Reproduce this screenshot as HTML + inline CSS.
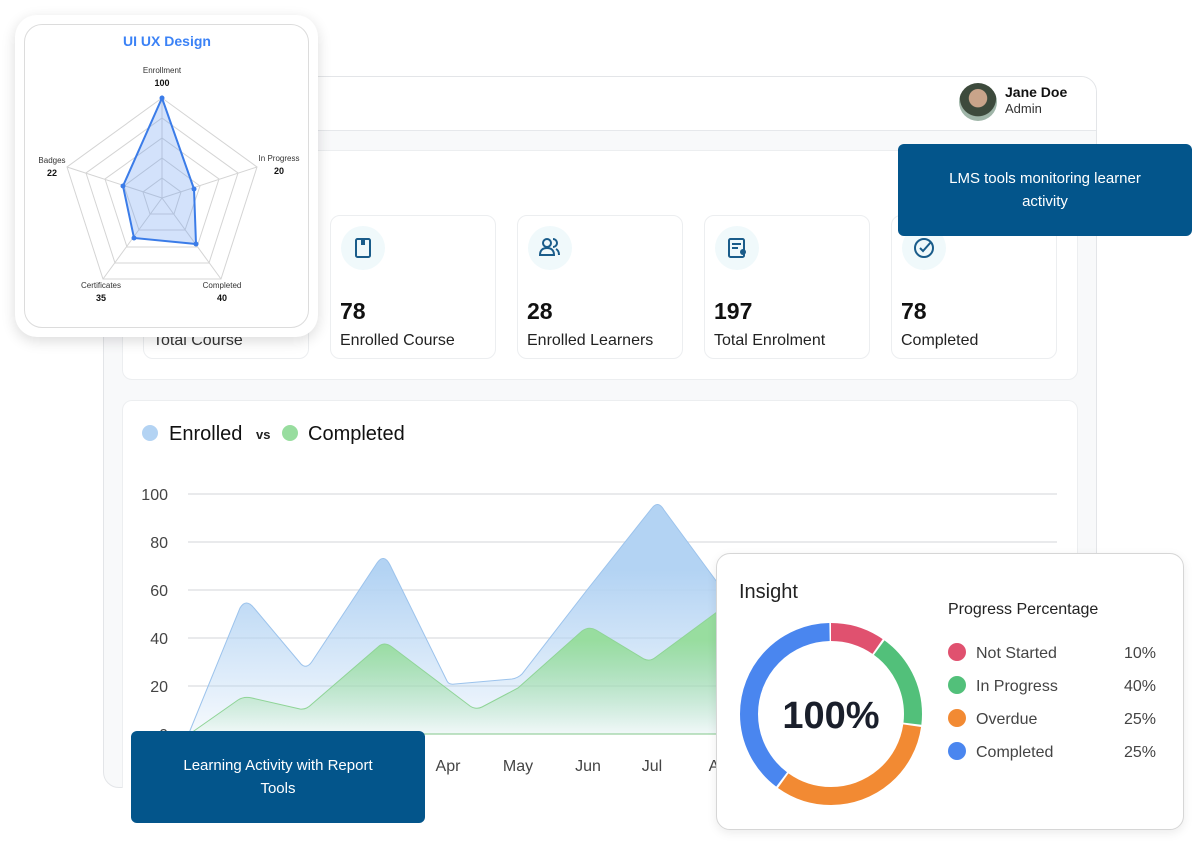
<!DOCTYPE html>
<html><head><meta charset="utf-8"><style>
*{margin:0;padding:0;box-sizing:border-box}
body{width:1200px;height:847px;background:#fff;position:relative;overflow:hidden;font-family:"Liberation Sans",sans-serif;color:#111}
.abs{position:absolute}
.frame{left:103px;top:76px;width:994px;height:712px;border:1px solid #e3e5e8;border-radius:16px;background:#f8f9fa;overflow:hidden}
.hdr{left:0;top:0;width:994px;height:54px;background:#fff;border-bottom:1px solid #e6e8eb}
.panel{background:#fff;border:1px solid #eceef0;border-radius:10px}
.card{background:#fff;border:1px solid #eceef0;border-radius:10px;width:166px;height:144px;top:215px}
.ic{position:absolute;left:10px;top:10px;width:44px;height:44px;border-radius:50%;background:#f0f9fb}
.num{position:absolute;left:9px;top:82px;font-size:23px;font-weight:bold}
.lbl{position:absolute;left:9px;top:116px;font-size:16px;color:#222}
.blue{background:#03558b;color:#fff;border-radius:6px;font-size:15px;text-align:center;line-height:23px;display:flex;align-items:center;justify-content:center}
</style></head><body>
<div class="abs frame">
  <div class="abs hdr"></div>
</div>
<div class="abs" style="left:959px;top:83px;width:38px;height:38px;border-radius:50%;background:radial-gradient(circle at 50% 40%,#c9a48a 0 30%,#3d4a3c 32% 60%,#9fb5a8 62%)"></div>
<div class="abs" style="left:1005px;top:84px;font-size:14px;font-weight:bold">Jane Doe</div>
<div class="abs" style="left:1005px;top:101px;font-size:13px;color:#333">Admin</div>

<div class="abs panel" style="left:122px;top:150px;width:956px;height:230px"></div>
<div class="abs card" style="left:143px"><div class="lbl" style="top:116px;font-size:16px;color:#333">Total Course</div></div>
<div class="abs card" style="left:330px"><div class="ic"><svg width="44" height="44"><rect x="15" y="13" width="14" height="18" rx="1.5" fill="none" stroke="#1a5c8a" stroke-width="2"/><rect x="20" y="13" width="4" height="6" fill="#1a5c8a"/></svg></div><div class="num">78</div><div class="lbl">Enrolled Course</div></div>
<div class="abs card" style="left:517px"><div class="ic"><svg width="44" height="44"><circle cx="19" cy="17" r="4" fill="none" stroke="#1a5c8a" stroke-width="2"/><path d="M12 29c0-5 3-7 7-7s7 2 7 7z" fill="none" stroke="#1a5c8a" stroke-width="2"/><path d="M25 13a4 4 0 0 1 0 8M28 23c2 1 3 3 3 6" fill="none" stroke="#1a5c8a" stroke-width="2"/></svg></div><div class="num">28</div><div class="lbl">Enrolled Learners</div></div>
<div class="abs card" style="left:704px"><div class="ic"><svg width="44" height="44"><rect x="14" y="13" width="15" height="18" rx="1.5" fill="none" stroke="#1a5c8a" stroke-width="2"/><path d="M17 18h9M17 22h6" stroke="#1a5c8a" stroke-width="2"/><circle cx="28" cy="26" r="3" fill="#1a5c8a"/></svg></div><div class="num">197</div><div class="lbl">Total Enrolment</div></div>
<div class="abs card" style="left:891px"><div class="ic"><svg width="44" height="44"><circle cx="22" cy="22" r="9" fill="none" stroke="#1a5c8a" stroke-width="2"/><path d="M18 22l3 3 8-9" fill="none" stroke="#1a5c8a" stroke-width="2"/></svg></div><div class="num">78</div><div class="lbl">Completed</div></div>

<div class="abs panel" style="left:122px;top:400px;width:956px;height:388px;border-bottom:none;border-radius:10px 10px 0 0"></div>
<svg class="abs" style="left:0;top:0" width="1200" height="847">
  <defs>
    <linearGradient id="gb" gradientUnits="userSpaceOnUse" x1="0" y1="500" x2="0" y2="734"><stop offset="0.3" stop-color="#b3d3f3"/><stop offset="1" stop-color="#b3d3f3" stop-opacity="0.12"/></linearGradient>
    <linearGradient id="gg" gradientUnits="userSpaceOnUse" x1="0" y1="600" x2="0" y2="734"><stop offset="0.3" stop-color="#98dd9f"/><stop offset="1" stop-color="#98dd9f" stop-opacity="0.05"/></linearGradient>
  </defs>
  <g stroke="#e2e3e5" stroke-width="1.5">
    <line x1="188" y1="494" x2="1057" y2="494"/><line x1="188" y1="542" x2="1057" y2="542"/><line x1="188" y1="590" x2="1057" y2="590"/><line x1="188" y1="638" x2="1057" y2="638"/><line x1="188" y1="686" x2="1057" y2="686"/><line x1="188" y1="734" x2="1057" y2="734"/>
  </g>
  <g font-size="16" fill="#444" text-anchor="end">
    <text x="168" y="500">100</text><text x="168" y="548">80</text><text x="168" y="596">60</text><text x="168" y="644">40</text><text x="168" y="692">20</text><text x="168" y="740">0</text>
  </g>
  <path d="M189 733 L240 608 Q246 598 254 608 L301 664 Q307 670 313 660 L377 563 Q384 553 390 565 L447 681 Q449 685 455 684 L512 679 Q518 678 522 674 L587 590 L652 508 Q658 500 664 510 L717 582 L717 734 L189 734Z" fill="url(#gb)" stroke="#9cc3ec" stroke-width="1"/>
  <path d="M191 733 L238 700 Q244 696 252 698 L300 709 Q306 710 312 704 L378 647 Q384 641 392 647 L470 706 Q476 710 482 707 L518 688 L582 631 Q589 626 596 630 L644 659 Q650 662 656 657 L717 612 L717 734 L191 734Z" fill="url(#gg)" stroke="#8fd497" stroke-width="1"/>
  <g font-size="16" fill="#444" text-anchor="middle">
    <text x="448" y="771">Apr</text><text x="518" y="771">May</text><text x="588" y="771">Jun</text><text x="652" y="771">Jul</text><text x="714" y="771">A</text>
  </g>
  <circle cx="150" cy="433" r="8" fill="#b3d3f3"/>
  <text x="169" y="440" font-size="20" fill="#111">Enrolled</text>
  <text x="256" y="439" font-size="13" font-weight="bold" fill="#222">vs</text>
  <circle cx="290" cy="433" r="8" fill="#98dd9f"/>
  <text x="308" y="440" font-size="20" fill="#111">Completed</text>
</svg>

<div class="abs blue" style="left:898px;top:144px;width:294px;height:92px">LMS tools monitoring learner<br>activity</div>
<div class="abs blue" style="left:131px;top:731px;width:294px;height:92px">Learning Activity with Report<br>Tools</div>

<div class="abs" style="left:15px;top:15px;width:303px;height:322px;background:#fff;border-radius:22px;box-shadow:0 4px 14px rgba(0,0,0,.14)"></div>
<div class="abs" style="left:24px;top:24px;width:285px;height:304px;border:1.5px solid #dcdcdc;border-radius:18px;background:#fff"></div>
<svg class="abs" style="left:0;top:0" width="330" height="340">
  <text x="167" y="46" font-size="14" font-weight="bold" fill="#3b82f6" text-anchor="middle">UI UX Design</text>
  <g fill="none" stroke="#d4d4d4" stroke-width="1">
    <polygon points="162,98 257,167 221,279 103,279 67,167"/>
    <polygon points="162,118 238,173 209,263 115,263 86,173"/>
    <polygon points="162,138 219,179 197,247 127,247 105,179"/>
    <polygon points="162,158 200,186 185,230 139,230 124,186"/>
    <polygon points="162,178 181,192 174,214 150,214 143,192"/>
    <line x1="162" y1="198" x2="162" y2="98"/><line x1="162" y1="198" x2="257" y2="167"/><line x1="162" y1="198" x2="221" y2="279"/><line x1="162" y1="198" x2="103" y2="279"/><line x1="162" y1="198" x2="67" y2="167"/>
  </g>
  <polygon points="162,98 194,189 196,244 134,238 123,186" fill="rgba(96,150,240,0.28)" stroke="#3b7ce8" stroke-width="2"/>
  <g fill="#3b7ce8"><circle cx="162" cy="98" r="2.5"/><circle cx="194" cy="189" r="2.5"/><circle cx="196" cy="244" r="2.5"/><circle cx="134" cy="238" r="2.5"/><circle cx="123" cy="186" r="2.5"/></g>
  <g font-size="8" fill="#333" text-anchor="middle">
    <text x="162" y="73">Enrollment</text><text x="279" y="161">In Progress</text><text x="52" y="163">Badges</text><text x="101" y="288">Certificates</text><text x="222" y="288">Completed</text>
  </g>
  <g font-size="9" font-weight="bold" fill="#111" text-anchor="middle">
    <text x="162" y="86">100</text><text x="279" y="174">20</text><text x="52" y="176">22</text><text x="101" y="301">35</text><text x="222" y="301">40</text>
  </g>
</svg>

<div class="abs" style="left:716px;top:553px;width:468px;height:277px;background:#fff;border:1.5px solid #d6d6d6;border-radius:14px;box-shadow:0 3px 10px rgba(0,0,0,.08)"></div>
<svg class="abs" style="left:716px;top:553px" width="468" height="277">
  <text x="23" y="45" font-size="20" fill="#222">Insight</text>
  <g transform="translate(115,161)" fill="none" stroke-width="18">
    <circle r="82" stroke="#e0516f" stroke-dasharray="49.5 465.7" transform="rotate(-90)"/>
    <circle r="82" stroke="#52c07a" stroke-dasharray="0 51.5 87 400" transform="rotate(-90)"/>
    <circle r="82" stroke="#f28a33" stroke-dasharray="0 140.5 168 300" transform="rotate(-90)"/>
    <circle r="82" stroke="#4a86ef" stroke-dasharray="0 310.5 203 10" transform="rotate(-90)"/>
  </g>
  <text x="115" y="175" font-size="38" font-weight="bold" fill="#1a1f2b" text-anchor="middle">100%</text>
  <text x="232" y="61" font-size="16" fill="#222">Progress Percentage</text>
  <g font-size="16" fill="#444">
    <circle cx="241" cy="99" r="9" fill="#e0516f"/><text x="260" y="105">Not Started</text><text x="408" y="105">10%</text>
    <circle cx="241" cy="132" r="9" fill="#52c07a"/><text x="260" y="138">In Progress</text><text x="408" y="138">40%</text>
    <circle cx="241" cy="165" r="9" fill="#f28a33"/><text x="260" y="171">Overdue</text><text x="408" y="171">25%</text>
    <circle cx="241" cy="198" r="9" fill="#4a86ef"/><text x="260" y="204">Completed</text><text x="408" y="204">25%</text>
  </g>
</svg>
</body></html>
